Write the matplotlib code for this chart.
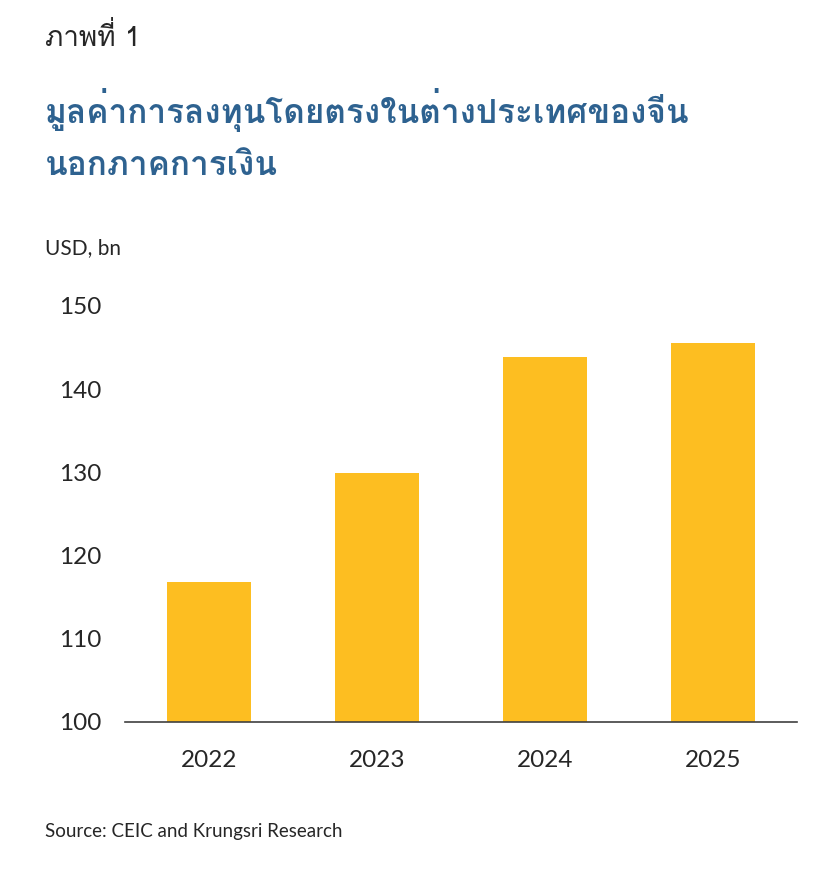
import matplotlib
matplotlib.use("Agg")
import matplotlib.pyplot as plt

# data
years = ["2022", "2023", "2024", "2025"]
fdi_usd_bn = [116.8, 129.9, 143.9, 145.6]
y_ticks = [100, 110, 120, 130, 140, 150]

figure_label = "ภาพที่ 1"
title_lines = ["มูลค่าการลงทุนโดยตรงในต่างประเทศของจีน", "นอกภาคการเงิน"]
unit_label = "USD, bn"
source_note = "Source: CEIC and Krungsri Research"

BAR_COLOR = "#FDBE21"
TITLE_COLOR = "#2E6290"
TEXT_COLOR = "#262626"
LATIN = ["Lato", "DejaVu Sans"]
THAI = ["Loma", "DejaVu Sans"]

fig = plt.figure(figsize=(8.4, 8.71), dpi=100)
ax = fig.add_axes([0.1488, 0.1711, 0.80, 0.4776])

x = range(len(years))
ax.bar(x, [v - 100 for v in fdi_usd_bn], bottom=100, width=0.5, color=BAR_COLOR)
ax.set_xlim(-0.5, len(years) - 0.5)
ax.set_ylim(100, 150)
ax.set_yticks(y_ticks)
ax.set_xticks(list(x))
ax.set_xticklabels(years)

for s in ("top", "right", "left"):
    ax.spines[s].set_visible(False)
ax.spines["bottom"].set_color("#404040")
ax.spines["bottom"].set_linewidth(1.2)
ax.tick_params(axis="both", length=0, labelsize=17.5, colors=TEXT_COLOR)
ax.tick_params(axis="y", pad=17)
ax.tick_params(axis="x", pad=20)
for lbl in ax.get_xticklabels() + ax.get_yticklabels():
    lbl.set_family(LATIN)

fig.text(45 / 840, 1 - 38 / 871, figure_label, family=THAI, fontsize=20,
         color=TEXT_COLOR, va="center", ha="left")
fig.text(45 / 840, 1 - 110 / 871, title_lines[0], family=THAI, fontsize=24,
         fontweight="bold", color=TITLE_COLOR, va="center", ha="left")
fig.text(45 / 840, 1 - 166 / 871, title_lines[1], family=THAI, fontsize=24,
         fontweight="bold", color=TITLE_COLOR, va="center", ha="left")
fig.text(45 / 840, 1 - 248 / 871, unit_label, family=LATIN, fontsize=15,
         color=TEXT_COLOR, va="center", ha="left")
fig.text(45 / 840, 1 - 831 / 871, source_note, family=LATIN, fontsize=13.5,
         color=TEXT_COLOR, va="center", ha="left")

fig.savefig("out.png", dpi=100)
